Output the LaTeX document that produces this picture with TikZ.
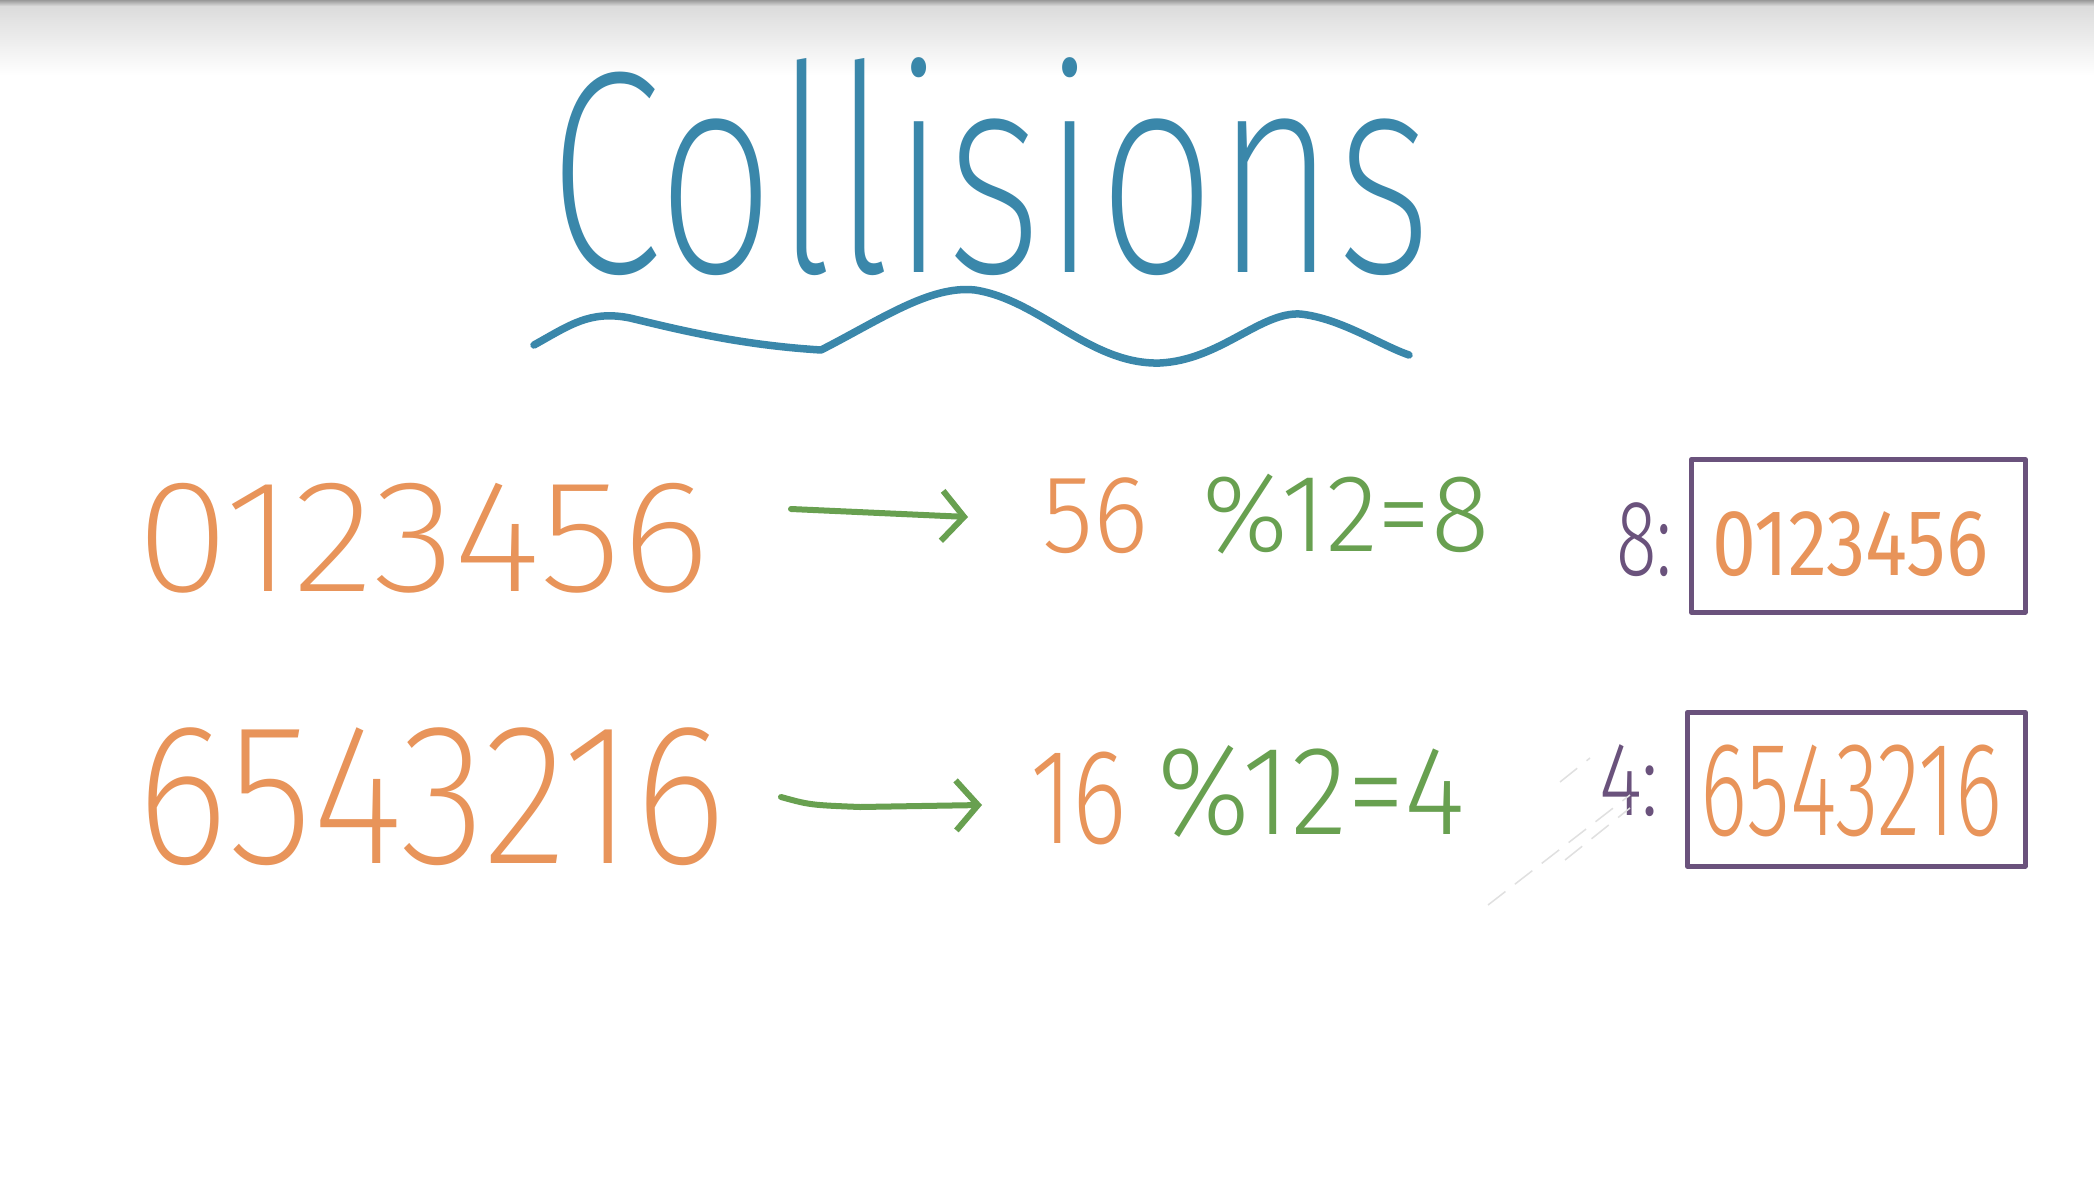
\documentclass[tikz,border=0pt]{standalone}
\usepackage{fontspec}
\usepackage{graphicx}
\usetikzlibrary{arrows.meta}
\newfontfamily\hand{Fira Sans Light}
\newfontfamily\handreg{Fira Sans}
\newfontfamily\handthin{Fira Sans ExtraLight}
\definecolor{penblue}{HTML}{3A87AA}
\definecolor{penorange}{HTML}{E8945A}
\definecolor{pengreen}{HTML}{68A050}
\definecolor{penpurple}{HTML}{6A527C}
\newcommand\fitto[3]{\resizebox*{#1pt}{#2pt}{#3}}
\tikzset{
  handtext/.style={inner sep=0pt, outer sep=0pt, anchor=north west, font=\hand},
  orangetext/.style={handtext, text=penorange},
  greentext/.style={handtext, text=pengreen},
  purpletext/.style={handtext, text=penpurple},
  slotbox/.style={draw=penpurple, line width=4.5pt, line join=round, inner sep=0pt},
  penarrow/.style={draw=pengreen, line width=6pt, line cap=round, line join=round,
    -{Straight Barb[length=22pt,width=50pt,line width=6pt]}},
  wave/.style={draw=penblue, line width=7.5pt, line cap=round, line join=round},
  ghost/.style={draw=black!12, line width=1.5pt, dash pattern=on 22pt off 12pt}
}
\begin{document}
\begin{tikzpicture}[x=1pt,y=-1pt]
\useasboundingbox (0,0) rectangle (2094,1184);
\fill[white] (0,0) rectangle (2094,1184);
\shade[top color=black!14, bottom color=white] (0,6) rectangle (2094,75);
\shade[top color=black!40, bottom color=black!14] (0,0) rectangle (2094,6);

% title
\node[handtext, font=\handthin, text=penblue] (title) at (548,58) {\fitto{884}{218}{Collisions}};
\draw[wave] (534,345) .. controls (570,325) and (590,310) .. (630,318)
  .. controls (680,330) and (740,345) .. (821,350)
  .. controls (880,320) and (930,285) .. (975,290)
  .. controls (1040,300) and (1090,365) .. (1160,363)
  .. controls (1220,360) and (1260,312) .. (1300,314)
  .. controls (1340,318) and (1380,345) .. (1409,355);

% row 1
\node[orangetext, font=\handthin] (k1) at (136,483) {\fitto{574}{110}{0123456}};
\node[orangetext] (m1a) at (1042,478) {\fitto{106}{76}{56}};
\node[greentext] (m1b) at (1202,474) {\fitto{287}{80}{\%12=8}};
\node[purpletext] (i1) at (1616,503) {\fitto{56}{74}{8:}};
\node[slotbox, minimum width=334pt, minimum height=153pt, anchor=north west] (b1) at (1689,457) {};
\node[orangetext, font=\handreg] (v1) at (1712,512) {\fitto{276}{65}{0123456}};
\coordinate (a1s) at (791,509);
\coordinate (a1e) at (968,517);
\draw[penarrow] (a1s) -- (a1e);

% row 2
\node[orangetext, font=\handthin] (k2) at (136,728) {\fitto{590}{138}{6543216}};
\node[orangetext] (m2a) at (1030,752) {\fitto{97}{93}{16}};
\node[greentext] (m2b) at (1157,745) {\fitto{308}{92}{\%12=4}};
\node[purpletext] (i2) at (1599,745) {\fitto{60}{72}{4:}};
\node[slotbox, minimum width=338pt, minimum height=154pt, anchor=north west] (b2) at (1685,710) {};
\node[orangetext] (v2) at (1700,745) {\fitto{302}{92}{6543216}};
\coordinate (a2s) at (781,797);
\coordinate (a2m) at (860,807);
\coordinate (a2e) at (982,805);
\draw[penarrow] (a2s) .. controls (810,805) .. (a2m) -- (a2e);

% faint erased strokes
\draw[ghost] (1488,905) -- (1630,795);
\draw[ghost] (1565,860) -- (1630,808);
\draw[ghost] (1560,782) -- (1590,758);
\end{tikzpicture}
\end{document}
